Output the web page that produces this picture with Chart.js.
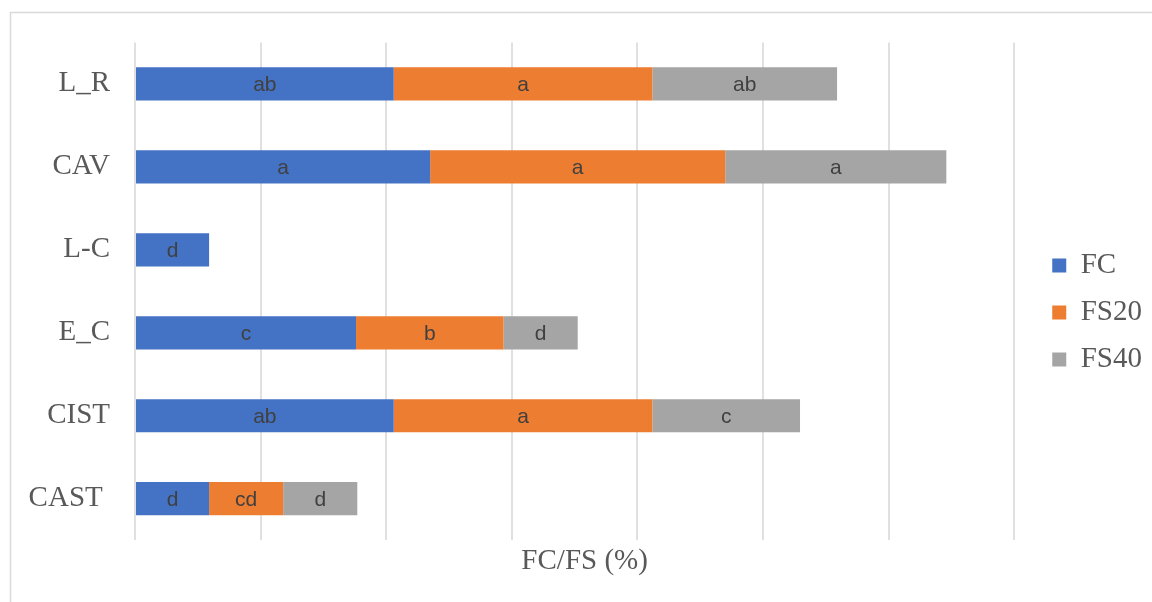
<!DOCTYPE html>
<html>
<head>
<meta charset="utf-8">
<script src="https://cdn.jsdelivr.net/npm/chart.js@4/dist/chart.umd.min.js"></script>
<style>
  html, body { margin: 0; padding: 0; background: #fff; }
  canvas { display: block; }
</style>
</head>
<body>
<canvas id="barChart" width="1152" height="602"></canvas>
<script>
const categories = ["L_R", "CAV", "L-C", "E_C", "CIST", "CAST "];
const fcValues = [20.6, 23.5, 5.9, 17.6, 20.6, 5.9];
const fs20Values = [20.6, 23.5, null, 11.75, 20.6, 5.9];
const fs40Values = [14.7, 17.6, null, 5.9, 11.75, 5.9];
const fcLetters = ["ab", "a", "d", "c", "ab", "d"];
const fs20Letters = ["a", "a", "", "b", "a", "cd"];
const fs40Letters = ["ab", "a", "", "d", "c", "d"];

const serif = "'Liberation Serif', 'Times New Roman', serif";

// outer frame around the whole chart
const framePlugin = {
  id: "frame",
  beforeDraw(chart) {
    const ctx = chart.ctx;
    ctx.save();
    ctx.strokeStyle = "#d9d9d9";
    ctx.lineWidth = 1.5;
    ctx.strokeRect(10.5, 12.5, 1160, 620);
    ctx.restore();
  },
};

// letters written in the middle of each bar segment
const letterPlugin = {
  id: "letters",
  afterDatasetsDraw(chart) {
    const ctx = chart.ctx;
    ctx.save();
    ctx.font = "21px 'Liberation Sans', Arial, sans-serif";
    ctx.fillStyle = "#404040";
    ctx.textAlign = "center";
    ctx.textBaseline = "middle";
    chart.data.datasets.forEach((ds, i) => {
      chart.getDatasetMeta(i).data.forEach((bar, j) => {
        if (ds.data[j] == null || !ds.letters[j]) return;
        ctx.fillText(ds.letters[j], (bar.x + bar.base) / 2, bar.y + 1);
      });
    });
    ctx.restore();
  },
};

new Chart("barChart", {
  type: "bar",
  data: {
    labels: categories,
    datasets: [
      { label: "FC", data: fcValues, letters: fcLetters, backgroundColor: "#4472C4" },
      { label: "FS20", data: fs20Values, letters: fs20Letters, backgroundColor: "#ED7D31" },
      { label: "FS40", data: fs40Values, letters: fs40Letters, backgroundColor: "#A5A5A5" },
    ],
  },
  options: {
    indexAxis: "y",
    responsive: false,
    animation: false,
    devicePixelRatio: 1,
    categoryPercentage: 0.4,
    barPercentage: 1,
    layout: { padding: { left: 0, right: 0, top: 42, bottom: 19 } },
    plugins: {
      tooltip: { enabled: false },
      legend: {
        position: "right",
        labels: {
          boxWidth: 14,
          boxHeight: 14,
          padding: 18,
          color: "#595959",
          font: { family: serif, size: 29 },
        },
      },
    },
    scales: {
      x: {
        stacked: true,
        min: 0,
        max: 71.6,
        border: { display: false },
        grid: {
          drawTicks: false,
          lineWidth: 2,
          color: (c) => (c.tick && c.tick.value > 70 ? "rgba(0,0,0,0)" : "#e0e0e0"),
        },
        ticks: { display: false, stepSize: 10, includeBounds: false },
        title: {
          display: true,
          text: "FC/FS (%)",
          color: "#595959",
          font: { family: serif, size: 29 },
          padding: { top: 4, bottom: 4 },
        },
      },
      y: {
        stacked: true,
        border: { display: false },
        grid: { display: false, drawTicks: false },
        ticks: {
          color: "#595959",
          padding: 25,
          font: { family: serif, size: 29 },
        },
        afterFit(scale) {
          scale.width = 135;
        },
      },
    },
  },
  plugins: [framePlugin, letterPlugin],
});
</script>
</body>
</html>
